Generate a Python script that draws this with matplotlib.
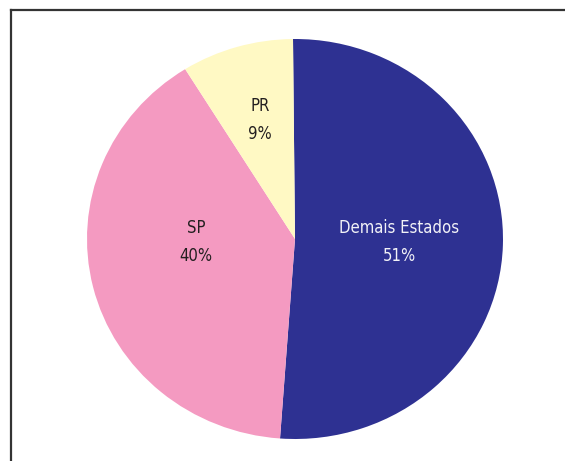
import matplotlib
matplotlib.use("Agg")
import matplotlib.pyplot as plt
from matplotlib.lines import Line2D
from matplotlib import font_manager
import numpy as np

# Data
categories = ["Demais Estados", "SP", "PR"]
shares = [51.3, 40.0, 8.7]
pct_labels = ["51%", "40%", "9%"]
colors = ["#2E3192", "#F49AC1", "#FFF9C4"]
text_colors = ["#F2F2F7", "#231F20", "#231F20"]

W, H = 565, 461
fig = plt.figure(figsize=(W / 100, H / 100), dpi=100)
fig.patch.set_facecolor("white")

names = {f.name for f in font_manager.fontManager.ttflist}
family = ["Liberation Sans Narrow"] if "Liberation Sans Narrow" in names else ["DejaVu Sans"]
stretch = "normal" if family[0] == "Liberation Sans Narrow" else "condensed"

# pie occupies x 87..503, y 39..439 (pixels, from top)
ax = fig.add_axes([87 / W, (H - 439) / H, 416 / W, 400 / H])
wedges, _ = ax.pie(shares, colors=colors, startangle=90.55, counterclock=False,
                   radius=1, wedgeprops=dict(linewidth=0))
ax.set_aspect("auto")
ax.set_xlim(-1, 1)
ax.set_ylim(-1, 1)
ax.axis("off")

label_r = [0.50, 0.49, 0.60]
label_dy = [0.0, 0.10, 0.02]
for w, name, pct, tc, r, dy in zip(wedges, categories, pct_labels, text_colors, label_r, label_dy):
    mid = np.deg2rad((w.theta1 + w.theta2) / 2)
    x = r * np.cos(mid)
    y = r * np.sin(mid) + dy
    ax.text(x, y + 0.07, name, ha="center", va="center", color=tc,
            fontsize=12, family=family, stretch=stretch)
    ax.text(x, y - 0.07, pct, ha="center", va="center", color=tc,
            fontsize=12, family=family, stretch=stretch)

fig.add_artist(Line2D([10.5 / W, 10.5 / W], [0, 1 - 10.5 / H], color="#333333", lw=1.6,
                      transform=fig.transFigure))
fig.add_artist(Line2D([10.5 / W, 1], [1 - 10.5 / H, 1 - 10.5 / H], color="#333333", lw=1.6,
                      transform=fig.transFigure))

fig.savefig("out.png", dpi=100)
